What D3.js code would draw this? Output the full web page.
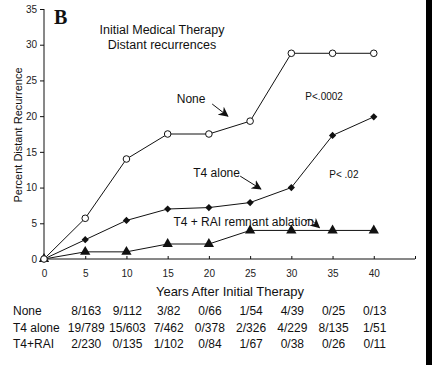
<!DOCTYPE html>
<html><head><meta charset="utf-8">
<script src="https://cdn.jsdelivr.net/npm/d3@7"></script>
<style>body{margin:0;background:#fff}svg{display:block}</style>
</head><body>
<script>
const years = [0, 5, 10, 15, 20, 25, 30, 35, 40];
const noneVals = [0, 5.7, 14.0, 17.5, 17.5, 19.3, 28.8, 28.8, 28.8];
const t4Vals = [0, 2.7, 5.4, 7.0, 7.2, 7.9, 10.0, 17.3, 19.9];
const raiVals = [0, 1.0, 1.0, 2.1, 2.1, 4.0, 4.0, 4.0, 4.0];
const xTicks = [0, 5, 10, 15, 20, 25, 30, 35, 40, 45];
const xTickLabels = ["0","5","10","15","20","25","30","35","40",""];
const yTicks = [0, 5, 10, 15, 20, 25, 30, 35];
const tableYears = [5, 10, 15, 20, 25, 30, 35, 40];
const rowNames = ["None", "T4 alone", "T4+RAI"];
const rowNone = ["8/163","9/112","3/82","0/66","1/54","4/39","0/25","0/13"];
const rowT4 = ["19/789","15/603","7/462","0/378","2/326","4/229","8/135","1/51"];
const rowRai = ["2/230","0/135","1/102","0/84","1/67","0/38","0/26","0/11"];

const W = 432, H = 365;
const svg = d3.select("body").append("svg").attr("width", W).attr("height", H);
const x = d3.scaleLinear().domain([0, 45]).range([44, 415]);
const y = d3.scaleLinear().domain([0, 35]).range([259, 9]);
const font = "'Liberation Sans', Arial, sans-serif";
const ink = "#111";

// right black border strip
svg.append("rect").attr("x", 426).attr("y", 0).attr("width", 6).attr("height", H).attr("fill", "#000");

// axes
const yAxis = d3.axisLeft(y).tickValues(yTicks).tickSize(4).tickPadding(3);
const gy = svg.append("g").attr("transform", `translate(${x(0)},0)`).call(yAxis);
const xAxis = d3.axisBottom(x).tickValues(xTicks).tickSize(-3).tickPadding(11)
  .tickFormat((d, i) => xTickLabels[i]);
const gx = svg.append("g").attr("transform", `translate(0,${y(0)})`).call(xAxis);
[gx, gy].forEach(g => {
  g.select(".domain").attr("stroke", ink).attr("stroke-width", 1);
  g.selectAll(".tick line").attr("stroke", ink);
  g.selectAll(".tick text").attr("fill", "#222").attr("font-family", font).attr("font-size", 10);
});
gx.select(".domain").attr("d", `M${x(0)},0H${x(45)}`);
gy.select(".domain").attr("d", `M0,${y(0)}V${y(35)}`);

// axis titles
svg.append("text").attr("transform", `translate(22,${(y(0)+y(35))/2 + 1}) rotate(-90)`)
  .attr("text-anchor", "middle").attr("font-family", font).attr("font-size", 11).attr("fill", ink)
  .text("Percent Distant Recurrence");
svg.append("text").attr("x", 230).attr("y", 296).attr("text-anchor", "middle")
  .attr("font-family", font).attr("font-size", 13).attr("fill", ink).text("Years After Initial Therapy");

// title
svg.append("text").attr("x", 54).attr("y", 24).attr("font-family", "'Liberation Serif', 'Times New Roman', serif")
  .attr("font-weight", "bold").attr("font-size", 20).attr("fill", ink).text("B");
svg.append("text").attr("x", 162).attr("y", 34).attr("text-anchor", "middle").attr("font-family", font)
  .attr("font-size", 12.5).attr("fill", ink).text("Initial Medical Therapy");
svg.append("text").attr("x", 162).attr("y", 49).attr("text-anchor", "middle").attr("font-family", font)
  .attr("font-size", 12.5).attr("fill", ink).text("Distant recurrences");

// lines
const line = d3.line().x((d, i) => x(years[i])).y(d => y(d));
[raiVals, t4Vals, noneVals].forEach(vals => {
  svg.append("path").datum(vals).attr("d", line).attr("fill", "none").attr("stroke", ink).attr("stroke-width", 1);
});

// markers
svg.append("g").selectAll("path").data(raiVals).join("path")
  .attr("transform", (d, i) => `translate(${x(years[i])},${y(d)})`)
  .attr("d", d3.symbol(d3.symbolTriangle, 46)).attr("fill", ink);
svg.append("g").selectAll("path").data(t4Vals).join("path")
  .attr("transform", (d, i) => `translate(${x(years[i])},${y(d)}) rotate(45)`)
  .attr("d", d3.symbol(d3.symbolSquare, 26)).attr("fill", ink);
svg.append("g").selectAll("circle").data(noneVals).join("circle")
  .attr("cx", (d, i) => x(years[i])).attr("cy", d => y(d)).attr("r", 3.3)
  .attr("fill", "#fff").attr("stroke", ink).attr("stroke-width", 1);

// annotations (data coordinates)
const defs = svg.append("defs");
defs.append("marker").attr("id", "ah").attr("viewBox", "0 0 10 10").attr("refX", 9).attr("refY", 5)
  .attr("markerWidth", 10).attr("markerHeight", 10).attr("orient", "auto").attr("markerUnits", "userSpaceOnUse")
  .append("path").attr("d", "M0,0L10,5L0,10L3,5Z").attr("fill", ink);

function label(t, xv, yv, size) {
  svg.append("text").attr("x", x(xv)).attr("y", y(yv)).attr("dy", "0.35em")
    .attr("font-family", font).attr("font-size", size).attr("fill", ink).text(t);
}
label("None", 16.1, 22.4, 12);
label("T4 alone", 18.1, 12.0, 12);
label("T4 + RAI remnant ablation", 15.7, 5.2, 12);
label("P<.0002", 31.7, 22.8, 10);
label("P< .02", 34.6, 11.9, 10);

function arrow(x1, y1, x2, y2) {
  svg.append("line").attr("x1", x(x1)).attr("y1", y(y1)).attr("x2", x(x2)).attr("y2", y(y2))
    .attr("stroke", ink).attr("stroke-width", 1).attr("marker-end", "url(#ah)");
}
arrow(20.4, 21.7, 22.3, 20.0);
arrow(23.8, 11.6, 26.3, 9.8);
// curly arrow for T4 + RAI
svg.append("path")
  .attr("d", `M${x(31.7)},${y(5.3)} Q${x(32.2)},${y(5.8)} ${x(32.6)},${y(5.3)} T${x(33.4)},${y(4.4)}`)
  .attr("fill", "none").attr("stroke", ink).attr("stroke-width", 1).attr("marker-end", "url(#ah)");

// table
const rows = [rowNone, rowT4, rowRai];
const rowY = [311, 328, 344];
rows.forEach((r, ri) => {
  svg.append("text").attr("x", 13).attr("y", rowY[ri]).attr("dy", "0.35em").attr("font-family", font)
    .attr("font-size", 12).attr("fill", ink).text(rowNames[ri]);
  svg.append("g").selectAll("text").data(r).join("text")
    .attr("x", (d, i) => x(tableYears[i]) + 1).attr("y", rowY[ri]).attr("dy", "0.35em")
    .attr("text-anchor", "middle").attr("font-family", font).attr("font-size", 12).attr("fill", ink)
    .text(d => d);
});
</script>
</body></html>
